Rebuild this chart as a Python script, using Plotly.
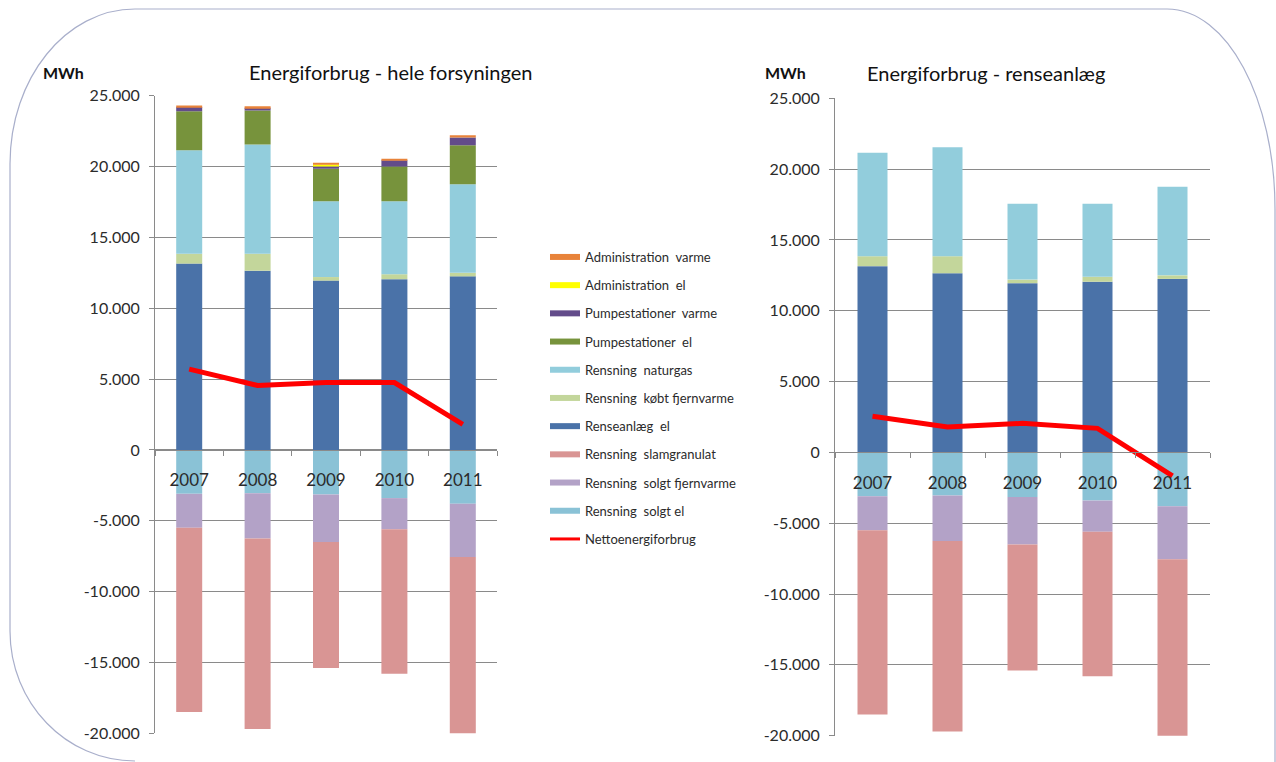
import plotly.graph_objects as go

# ---- data (MWh) ----
years = ["2007", "2008", "2009", "2010", "2011"]

renseanlaeg_el = [13150, 12650, 11950, 12050, 12250]
rensning_koebt_fjernvarme = [700, 1200, 250, 350, 250]
rensning_naturgas = [7300, 7700, 5350, 5150, 6250]
pumpestationer_el = [2750, 2400, 2300, 2450, 2750]
pumpestationer_varme = [300, 200, 150, 450, 550]
administration_el = [0, 0, 150, 0, 0]
administration_varme = [100, 100, 80, 100, 150]

rensning_solgt_el = [-3100, -3050, -3150, -3400, -3800]
rensning_solgt_fjernvarme = [-2400, -3200, -3350, -2200, -3750]
rensning_slamgranulat = [-13000, -13450, -8900, -10200, -12850]

netto_hele = [5700, 4550, 4750, 4750, 1800]
netto_renseanlaeg = [2550, 1800, 2050, 1700, -1650]

y_ticks = [25000, 20000, 15000, 10000, 5000, 0, -5000, -10000, -15000, -20000]
y_ticktext = [f"{v:,}".replace(",", ".") for v in y_ticks]

# ---- styling ----
W, H = 1276, 762
FONT = "Lato"
TXT = "#2b2b2b"
GRID = "#8a8a8a"

colors = {
    "Administration  varme": "#E8833A",
    "Administration  el": "#FFFF00",
    "Pumpestationer  varme": "#634C8A",
    "Pumpestationer  el": "#77933C",
    "Rensning  naturgas": "#92CDDC",
    "Rensning  købt fjernvarme": "#C3D69B",
    "Renseanlæg  el": "#4A72A8",
    "Rensning  slamgranulat": "#D99594",
    "Rensning  solgt fjernvarme": "#B3A2C7",
    "Rensning  solgt el": "#8AC2D6",
    "Nettoenergiforbrug": "#FF0000",
}

# stacking order, bottom to top (negative values stack downward on their own)
hele_series = [
    ("Rensning  solgt el", rensning_solgt_el),
    ("Rensning  solgt fjernvarme", rensning_solgt_fjernvarme),
    ("Rensning  slamgranulat", rensning_slamgranulat),
    ("Renseanlæg  el", renseanlaeg_el),
    ("Rensning  købt fjernvarme", rensning_koebt_fjernvarme),
    ("Rensning  naturgas", rensning_naturgas),
    ("Pumpestationer  el", pumpestationer_el),
    ("Pumpestationer  varme", pumpestationer_varme),
    ("Administration  el", administration_el),
    ("Administration  varme", administration_varme),
]
rense_series = hele_series[:6]

fig = go.Figure()

for name, vals in hele_series:
    fig.add_trace(go.Bar(x=years, y=vals, name=name, marker_color=colors[name],
                         marker_line_width=0, width=0.38, showlegend=False,
                         xaxis="x", yaxis="y"))
fig.add_trace(go.Scatter(x=years, y=netto_hele, mode="lines", name="Nettoenergiforbrug",
                         line=dict(color=colors["Nettoenergiforbrug"], width=5),
                         showlegend=False, xaxis="x", yaxis="y"))

for name, vals in rense_series:
    fig.add_trace(go.Bar(x=years, y=vals, name=name, marker_color=colors[name],
                         marker_line_width=0, width=0.40, showlegend=False,
                         xaxis="x2", yaxis="y2"))
fig.add_trace(go.Scatter(x=years, y=netto_renseanlaeg, mode="lines", name="Nettoenergiforbrug",
                         line=dict(color=colors["Nettoenergiforbrug"], width=5),
                         showlegend=False, xaxis="x2", yaxis="y2"))

# legend entries drawn as wide flat swatches
for i, name in enumerate(colors):
    fig.add_trace(go.Scatter(x=[None], y=[None], mode="lines", name=name,
                             legendgroup=f"g{i}",
                             line=dict(color=colors[name], width=3 if name == "Nettoenergiforbrug" else 6),
                             showlegend=True, xaxis="x", yaxis="y", hoverinfo="skip"))

y_lo, y_hi = -20000, 25000


def zero_pos(dom):
    return dom[0] + (0 - y_lo) / (y_hi - y_lo) * (dom[1] - dom[0])


xdom1 = [155 / W, 497 / W]
ydom1 = [1 - 733.3 / H, 1 - 95.7 / H]
xdom2 = [835 / W, 1210 / W]
ydom2 = [1 - 735.7 / H, 1 - 98.3 / H]


def yaxis_cfg(dom, anchor):
    return dict(domain=dom, anchor=anchor, range=[y_lo, y_hi], tickvals=y_ticks,
                ticktext=y_ticktext, showgrid=True, gridcolor=GRID, gridwidth=1,
                zeroline=False, showline=True, linecolor=GRID, linewidth=1,
                ticks="outside", ticklen=5, tickcolor=GRID, ticklabelstandoff=6,
                tickfont=dict(family=FONT, size=16, color=TXT), fixedrange=True)


def xaxis_cfg(dom, ydom):
    return dict(domain=dom, anchor="free", position=zero_pos(ydom), type="category",
                showgrid=False, zeroline=False, showline=True, linecolor=GRID, linewidth=1,
                ticks="outside", ticklen=5, tickcolor=GRID, tickson="boundaries",
                ticklabelstandoff=15,
                tickfont=dict(family=FONT, size=17, color=TXT), fixedrange=True)


def px(x, y):
    return f"{x / W:.5f},{1 - y / H:.5f}"


# rounded frame around both charts
border = ("M" + px(135, 761) + " C" + px(66, 761) + " " + px(10, 703) + " " + px(10, 631)
          + " L" + px(10, 164) + " C" + px(10, 78) + " " + px(66, 9) + " " + px(135, 9)
          + " L" + px(1167, 9) + " C" + px(1227, 9) + " " + px(1275, 99) + " " + px(1275, 209)
          + " L" + px(1275, 762))

annotations = [
    dict(text="<b>MWh</b>", x=63 / W, y=1 - 72 / H, xref="paper", yref="paper",
         showarrow=False, xanchor="center", yanchor="middle",
         font=dict(family=FONT, size=16, color="#111")),
    dict(text="Energiforbrug - hele forsyningen", x=390 / W, y=1 - 72 / H, xref="paper",
         yref="paper", showarrow=False, xanchor="center", yanchor="middle",
         font=dict(family=FONT, size=20, color="#111")),
    dict(text="<b>MWh</b>", x=785 / W, y=1 - 73 / H, xref="paper", yref="paper",
         showarrow=False, xanchor="center", yanchor="middle",
         font=dict(family=FONT, size=16, color="#111")),
    dict(text="Energiforbrug - renseanlæg", x=986 / W, y=1 - 73 / H, xref="paper",
         yref="paper", showarrow=False, xanchor="center", yanchor="middle",
         font=dict(family=FONT, size=20, color="#111")),
]

fig.update_layout(
    width=W, height=H, autosize=False,
    margin=dict(l=0, r=0, t=0, b=0, pad=0, autoexpand=False),
    paper_bgcolor="white", plot_bgcolor="white",
    barmode="relative",
    separators=",.",
    font=dict(family=FONT, color=TXT),
    xaxis=xaxis_cfg(xdom1, ydom1),
    yaxis=yaxis_cfg(ydom1, "x"),
    xaxis2=xaxis_cfg(xdom2, ydom2),
    yaxis2=yaxis_cfg(ydom2, "x2"),
    legend=dict(x=545 / W, xanchor="left", y=1 - 242 / H, yanchor="top",
                traceorder="grouped", tracegroupgap=8.3,
                font=dict(family=FONT, size=13, color=TXT),
                bgcolor="rgba(0,0,0,0)", borderwidth=0),
    shapes=[dict(type="path", path=border, xref="paper", yref="paper",
                 line=dict(color="#A9AFCB", width=1.2), fillcolor="rgba(0,0,0,0)",
                 layer="below")],
    annotations=annotations,
    showlegend=True,
)

fig.write_html("out.html")
